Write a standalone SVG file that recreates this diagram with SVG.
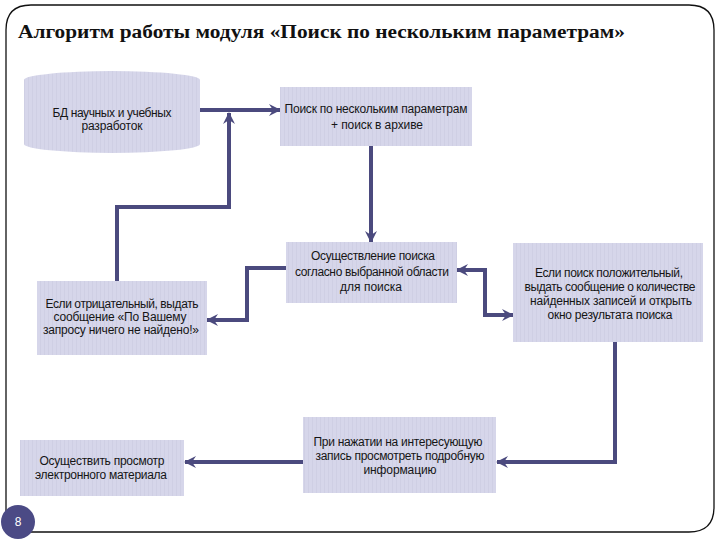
<svg xmlns="http://www.w3.org/2000/svg" width="720" height="540" viewBox="0 0 720 540">
<style>
.box{fill:url(#stripes);}
.t{font-family:"Liberation Sans","Arial",sans-serif;font-size:12px;fill:#151515;text-anchor:middle;}
.title{font-family:"Liberation Serif","Times New Roman",serif;font-size:18px;font-weight:bold;fill:#111;}
.c{fill:none;stroke:#4b4a7e;stroke-width:4;stroke-linejoin:miter;}
</style>
<defs>
<pattern id="stripes" patternUnits="userSpaceOnUse" width="4" height="10">
<rect width="4" height="10" fill="#d6d6ea"/>
<rect width="1" height="10" fill="#cfcfe4"/>
</pattern>
<marker id="ah" viewBox="-1 -7 14 14" refX="11" refY="0" markerWidth="14" markerHeight="14" markerUnits="userSpaceOnUse" orient="auto-start-reverse">
<path d="M0,-6 L12,0 L0,6 L4,0 Z" fill="#4b4a7e"/>
</marker>
</defs>
<rect width="720" height="540" fill="#ffffff"/>
<path d="M6,532 L6,30 Q6,5 31,5 L689,5 Q714,5 714,30 L714,507 Q714,532 689,532 Z" fill="none" stroke="#111" stroke-width="1.3"/>
<text class="title" x="18" y="38" textLength="607" lengthAdjust="spacingAndGlyphs">Алгоритм работы модуля «Поиск по нескольким параметрам»</text>

<g id="connectors">
<path class="c" d="M200,110 L280,110" marker-end="url(#ah)"/>
<path class="c" d="M117,283 L117,207 L229,207 L229,113" marker-end="url(#ah)"/>
<path class="c" d="M371,146 L371,242" marker-end="url(#ah)"/>
<path class="c" d="M286,268 L247,268 L247,320 L207,320" marker-end="url(#ah)"/>
<path class="c" d="M457,270 L485,270 L485,315 L513,315" marker-start="url(#ah)" marker-end="url(#ah)"/>
<path class="c" d="M615,342 L615,462 L497,462" marker-end="url(#ah)"/>
<path class="c" d="M303,462 L185,462" marker-end="url(#ah)"/>
</g>

<g id="db">
<path class="box" d="M24,80 A88,9 0 0 1 200,80 L200,144 A88,9 0 0 1 24,144 Z"/>
<text class="t" x="112" y="117" textLength="119">БД научных и учебных</text>
<text class="t" x="112" y="130" textLength="61">разработок</text>
</g>

<g id="search">
<rect class="box" x="280" y="87" width="192" height="59"/>
<text class="t" x="376" y="113" textLength="183">Поиск по нескольким параметрам</text>
<text class="t" x="377" y="129" textLength="92">+ поиск в архиве</text>
</g>

<g id="process">
<rect class="box" x="286" y="242" width="171" height="61"/>
<text class="t" x="373" y="260" textLength="124">Осуществление поиска</text>
<text class="t" x="372" y="276" textLength="154">согласно выбранной области</text>
<text class="t" x="371" y="291" textLength="62">для поиска</text>
</g>

<g id="negative">
<rect class="box" x="37" y="281" width="170" height="74"/>
<text class="t" x="122" y="308" textLength="153">Если отрицательный, выдать</text>
<text class="t" x="120" y="321" textLength="133">сообщение «По Вашему</text>
<text class="t" x="121" y="334" textLength="156">запросу ничего не найдено!»</text>
</g>

<g id="positive">
<rect class="box" x="513" y="243" width="190" height="99"/>
<text class="t" x="609" y="277" textLength="148">Если поиск положительный,</text>
<text class="t" x="610" y="291" textLength="171">выдать сообщение о количестве</text>
<text class="t" x="611" y="305" textLength="162">найденных записей и открыть</text>
<text class="t" x="610" y="319" textLength="125">окно результата поиска</text>
</g>

<g id="details">
<rect class="box" x="303" y="417" width="193" height="76"/>
<text class="t" x="398" y="446" textLength="169">При нажатии на интересующую</text>
<text class="t" x="400" y="460" textLength="169">запись просмотреть подробную</text>
<text class="t" x="400" y="474" textLength="73">информацию</text>
</g>

<g id="view">
<rect class="box" x="20" y="440" width="164" height="56"/>
<text class="t" x="102" y="465" textLength="125">Осуществить просмотр</text>
<text class="t" x="101" y="479" textLength="132">электронного материала</text>
</g>

<g id="page">
<circle cx="18" cy="522" r="17" fill="#4b4a85"/>
<text x="18" y="526" font-family="Liberation Sans, Arial, sans-serif" font-size="12" fill="#ffffff" text-anchor="middle">8</text>
</g>
</svg>
